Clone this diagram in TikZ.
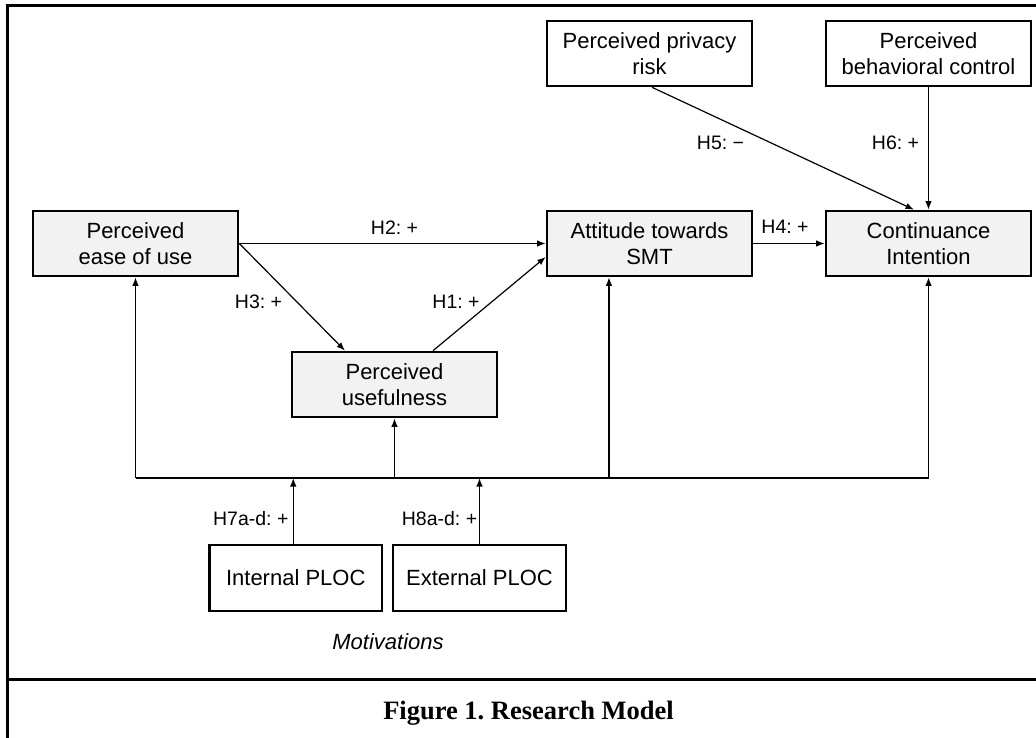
\documentclass[tikz,border=0pt]{standalone}
\usepackage{fontspec}
\setmainfont{Liberation Sans}
\newfontfamily\capfont{Liberation Serif}
\usetikzlibrary{arrows.meta}
\definecolor{boxgray}{RGB}{242,242,242}
\frenchspacing
\begin{document}
\frenchspacing
\begin{tikzpicture}[x=1pt,y=-1pt,
  cbox/.style={draw, line width=2.6pt, fill=boxgray, minimum width=205pt, minimum height=65pt, inner sep=0pt, align=center, font=\fontsize{22}{25.7}\selectfont},
  wbox/.style={cbox, fill=white},
  lbl/.style={font=\fontsize{19.5}{22}\selectfont, inner sep=0pt, anchor=base},
  conn/.style={line width=1.2pt, -{Latex[length=8.5pt,width=6.5pt]}},
  plainline/.style={line width=1.2pt},
  framerule/.style={line width=3pt}]
\useasboundingbox (0,0) rectangle (1036,738);
\fill[white] (0,0) rectangle (1036,738);

% frame
\draw[framerule] (7,738) -- (7,6) -- (1036,6);
\draw[framerule] (7,679) -- (1036,679);

% boxes
\node[cbox] (peou) at (135.5,243.5) {Perceived\\ease of use};
\node[cbox] (pu)   at (394.5,384.5) {Perceived\\usefulness};
\node[cbox] (att)  at (649.5,243.5) {Attitude towards\\SMT};
\node[cbox] (ci)   at (928.5,243.5) {Continuance\\Intention};
\node[wbox] (ppr)  at (649.5,53.5) {Perceived privacy\\risk};
\node[wbox] (pbc)  at (928.5,53.5) {Perceived\\behavioral control};
\node[wbox, minimum width=172.5pt, minimum height=66pt] (iploc) at (295.75,578) {Internal PLOC};
\node[wbox, minimum width=173pt, minimum height=66pt] (eploc) at (479.5,578) {External PLOC};

% connectors
\draw[conn] (peou.east) -- (att.west);
\draw[conn] (peou.east) -- ([xshift=-49.5pt]pu.north);
\draw[conn] ([xshift=38.5pt]pu.north) -- ([yshift=-13.5pt]att.west);
\draw[conn] (att.east) -- (ci.west);
\draw[conn] ([xshift=2.5pt]ppr.south) -- ([xshift=-14.5pt]ci.north);
\draw[conn] (pbc.south) -- (ci.north);

% bus
\coordinate (busL) at (135.5,478);
\coordinate (busR) at (928.5,478);
\draw[plainline] (busL) -- (busR);
\draw[conn] (busL) -- (peou.south);
\draw[conn] (pu.south |- busL) -- (pu.south);
\draw[conn] ([xshift=-40.5pt]att.south |- busL) -- ([xshift=-40.5pt]att.south);
\draw[conn] (busR) -- (ci.south);
\draw[conn] ([xshift=-2.5pt]iploc.north) -- ([xshift=-2.5pt]iploc.north |- busL);
\draw[conn] (eploc.north) -- (eploc.north |- busL);

% labels
\node[lbl] (l2) at (394.5,234.3) {H2: +};
\node[lbl] (l3) at (258.5,308.3) {H3: +};
\node[lbl] (l1) at (456,308.3) {H1: +};
\node[lbl] (l5) at (720.5,150) {H5: \char"2212};
\node[lbl] (l6) at (895.5,150) {H6: +};
\node[lbl] (l4) at (785,233.5) {H4: +};
\node[lbl] (l7) at (250.8,525.5) {H7a-d: +};
\node[lbl] (l8) at (439.5,525.5) {H8a-d: +};
\node[anchor=base, inner sep=0pt, font=\fontsize{22}{25}\selectfont\itshape] (mot) at (388,649) {Motivations};
\node[anchor=base, inner sep=0pt, font=\capfont\bfseries\fontsize{26.5}{30}\selectfont] (cap) at (528.5,719.3) {Figure 1. Research Model};
\end{tikzpicture}
\end{document}
